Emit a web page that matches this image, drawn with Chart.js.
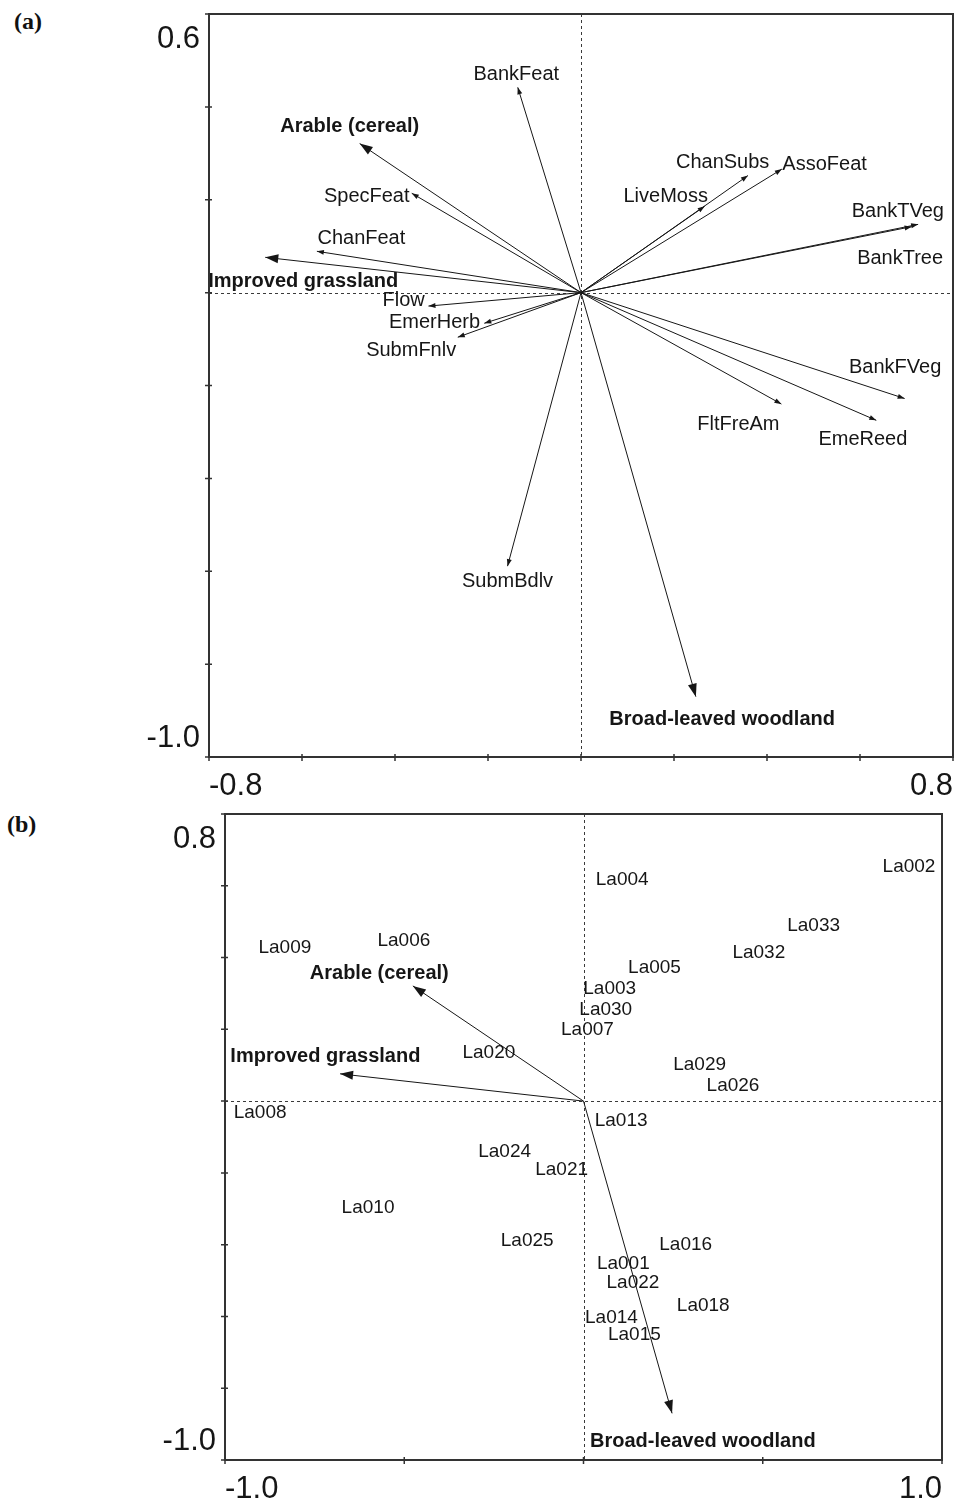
<!DOCTYPE html>
<html>
<head>
<meta charset="utf-8">
<title>Ordination biplots</title>
<script src="https://cdn.jsdelivr.net/npm/chart.js@4/dist/chart.umd.min.js"></script>
<style>
  html, body { margin: 0; padding: 0; background: #fff; }
  body { width: 955px; height: 1504px; position: relative; overflow: hidden; }
  .panel-tag { position: absolute; font: bold 24px "Liberation Serif", "Times New Roman", serif; color: #111; line-height: 1; }
  canvas { position: absolute; left: 0; }
</style>
</head>
<body>
<div class="panel-tag" style="left:14px;top:9px">(a)</div>
<div class="panel-tag" style="left:7px;top:812px">(b)</div>
<canvas id="chartA" width="955" height="805" style="top:0"></canvas>
<canvas id="chartB" width="955" height="699" style="top:805px"></canvas>
<script>
// ---- Habitat variables (biplot scores on ordination axes 1 and 2) ----
const habitatNames = ['BankFeat', 'SpecFeat', 'ChanFeat', 'Flow', 'EmerHerb', 'SubmFnlv', 'SubmBdlv',
  'ChanSubs', 'AssoFeat', 'LiveMoss', 'BankTVeg', 'BankTree', 'BankFVeg', 'EmeReed', 'FltFreAm'];
const habitatAxis1 = [-0.136, -0.364, -0.568, -0.328, -0.208, -0.265, -0.158,
  0.359, 0.432, 0.266, 0.725, 0.711, 0.696, 0.635, 0.431];
const habitatAxis2 = [0.442, 0.214, 0.089, -0.029, -0.066, -0.096, -0.589,
  0.252, 0.266, 0.186, 0.147, 0.142, -0.228, -0.275, -0.240];

// ---- Land-use variables ----
const landUseNames = ['Arable (cereal)', 'Improved grassland', 'Broad-leaved woodland'];
const landUseAxis1 = [-0.476, -0.679, 0.247];
const landUseAxis2 = [0.321, 0.076, -0.870];

// ---- Site scores ----
const siteNames = ['La001', 'La002', 'La003', 'La004', 'La005', 'La006', 'La007', 'La008', 'La009',
  'La010', 'La013', 'La014', 'La015', 'La016', 'La018', 'La020', 'La021', 'La022', 'La024',
  'La025', 'La026', 'La029', 'La030', 'La032', 'La033'];
const siteAxis1 = [0.111, 0.908, 0.073, 0.108, 0.198, -0.501, 0.011, -0.902, -0.833,
  -0.601, 0.105, 0.078, 0.142, 0.285, 0.334, -0.264, -0.061, 0.138, -0.220,
  -0.157, 0.417, 0.324, 0.062, 0.489, 0.642];
const siteAxis2 = [-0.450, 0.656, 0.317, 0.621, 0.375, 0.452, 0.203, -0.028, 0.432,
  -0.294, -0.051, -0.599, -0.648, -0.396, -0.565, 0.140, -0.188, -0.503, -0.138,
  -0.385, 0.047, 0.105, 0.259, 0.419, 0.492];

// ---- Axis limits (the only labelled ticks) ----
const axis1EdgesA = [-0.8, 0.8];
const axis2EdgesA = [-1.0, 0.6];
const axis1EdgesB = [-1.0, 1.0];
const axis2EdgesB = [-1.0, 0.8];

// Label placement relative to arrow tips, in pixels
const labelShiftA = {
  'BankFeat': [-1.5, -14.5], 'SpecFeat': [-45, 1.7], 'ChanFeat': [44.5, -14.7],
  'Flow': [-24.8, -6.8], 'EmerHerb': [-49.8, -2.5], 'SubmFnlv': [-46.6, 11.5],
  'SubmBdlv': [0, 13.2], 'ChanSubs': [-25.3, -14.9], 'AssoFeat': [42.7, -6.5],
  'LiveMoss': [-39, -11.8], 'BankTVeg': [-20.3, -14.3], 'BankTree': [-11.5, 29.8],
  'BankFVeg': [-9.5, -32.8], 'EmeReed': [-13.4, 18], 'FltFreAm': [-43, 18.8],
  'Arable (cereal)': [-10, -18.3], 'Improved grassland': [38, 22.8], 'Broad-leaved woodland': [26.3, 20.8]
};
const labelShiftB = {
  'Arable (cereal)': [-33.6, -14.3], 'Improved grassland': [-14.7, -19], 'Broad-leaved woodland': [30.8, 26.7]
};

const FONT = '"Liberation Sans", Arial, sans-serif';
const INK = '#161616';

function arrowSets(names, ax1, ax2, large) {
  return names.map((name, i) => ({
    label: name,
    showLine: true,
    data: [{ x: 0, y: 0 }, { x: ax1[i], y: ax2[i] }],
    borderColor: INK,
    borderWidth: 1,
    pointRadius: 0,
    pointHoverRadius: 0,
    arrow: large ? 'large' : 'small',
    bold: large
  }));
}

function drawText(ctx, text, cx, cy, bold, size) {
  ctx.save();
  ctx.font = (bold ? 'bold ' : '') + size + 'px ' + FONT;
  ctx.fillStyle = INK;
  ctx.textAlign = 'center';
  ctx.textBaseline = 'alphabetic';
  ctx.fillText(text, cx, cy + 0.358 * size);
  ctx.restore();
}

const biplotDecor = {
  id: 'biplotDecor',
  beforeDatasetsDraw(chart) {
    const { ctx, chartArea: a, scales: { x, y } } = chart;
    const x0 = Math.round(x.getPixelForValue(0)) + 0.5;
    const y0 = Math.round(y.getPixelForValue(0)) + 0.5;
    ctx.save();
    ctx.strokeStyle = '#3a3a3a';
    ctx.lineWidth = 1;
    ctx.setLineDash([3, 3]);
    ctx.beginPath();
    ctx.moveTo(x0, a.top); ctx.lineTo(x0, a.bottom);
    ctx.moveTo(a.left, y0); ctx.lineTo(a.right, y0);
    ctx.stroke();
    ctx.restore();
  },
  afterDatasetsDraw(chart, args, opts) {
    const ctx = chart.ctx;
    chart.data.datasets.forEach((ds, i) => {
      const meta = chart.getDatasetMeta(i);
      if (ds.arrow) {
        const p0 = meta.data[0], p1 = meta.data[1];
        const ang = Math.atan2(p1.y - p0.y, p1.x - p0.x);
        const len = ds.arrow === 'large' ? 13 : 7;
        const half = ds.arrow === 'large' ? 4.5 : 2.5;
        ctx.save();
        ctx.fillStyle = INK;
        ctx.translate(p1.x, p1.y);
        ctx.rotate(ang);
        ctx.beginPath();
        ctx.moveTo(0, 0);
        ctx.lineTo(-len, half);
        ctx.lineTo(-len, -half);
        ctx.closePath();
        ctx.fill();
        ctx.restore();
        const sh = opts.shifts[ds.label] || [0, 0];
        drawText(ctx, ds.label, p1.x + sh[0], p1.y + sh[1], ds.bold, ds.bold ? 20 : opts.textSize);
      } else if (ds.siteLabels) {
        meta.data.forEach((pt, j) => drawText(ctx, ds.siteLabels[j], pt.x, pt.y, false, opts.siteSize));
      }
    });
  },
  afterDraw(chart) {
    const { ctx, chartArea: a, scales: { x, y } } = chart;
    ctx.save();
    ctx.strokeStyle = '#333';
    ctx.lineWidth = 2;
    ctx.strokeRect(a.left, a.top, a.right - a.left, a.bottom - a.top);
    ctx.lineWidth = 1.5;
    ctx.beginPath();
    x.ticks.forEach(t => {
      const px = x.getPixelForValue(t.value);
      ctx.moveTo(px, a.bottom - 3); ctx.lineTo(px, a.bottom + 4);
    });
    y.ticks.forEach(t => {
      const py = y.getPixelForValue(t.value);
      ctx.moveTo(a.left - 4, py); ctx.lineTo(a.left + 3, py);
    });
    ctx.stroke();
    ctx.restore();
  }
};

function isEdge(v, edges) { return edges.some(e => Math.abs(e - v) < 1e-9); }

function makeScales(edges1, edges2, step1, step2, axisWidth, axisHeight) {
  return {
    x: {
      type: 'linear', position: 'bottom', min: edges1[0], max: edges1[1],
      grid: { display: false, drawTicks: false }, border: { display: false },
      ticks: {
        stepSize: step1, autoSkip: false, maxRotation: 0, align: 'inner', padding: 11,
        color: INK, font: { family: FONT, size: 31 },
        callback: v => isEdge(v, edges1) ? v.toFixed(1) : ''
      },
      afterFit(s) { s.height = axisHeight; s.paddingLeft = 0; s.paddingRight = 0; }
    },
    y: {
      type: 'linear', position: 'left', min: edges2[0], max: edges2[1],
      grid: { display: false, drawTicks: false }, border: { display: false },
      ticks: {
        stepSize: step2, autoSkip: false, padding: 9, labelOffset: 3,
        color: INK, font: { family: FONT, size: 31, lineHeight: 1.42 },
        callback: v => {
          if (Math.abs(v - edges2[1]) < 1e-9) return ['', v.toFixed(1)];
          if (Math.abs(v - edges2[0]) < 1e-9) return [v.toFixed(1), ''];
          return '';
        }
      },
      afterFit(s) { s.width = axisWidth; s.paddingTop = 0; s.paddingBottom = 0; }
    }
  };
}

function baseOptions(scales, padding, decor) {
  return {
    responsive: false,
    animation: false,
    events: [],
    layout: { padding },
    scales,
    plugins: { legend: { display: false }, tooltip: { enabled: false }, biplotDecor: decor }
  };
}

// (a) habitat and land-use variables
new Chart(document.getElementById('chartA'), {
  type: 'scatter',
  data: {
    datasets: [
      ...arrowSets(habitatNames, habitatAxis1, habitatAxis2, false),
      ...arrowSets(landUseNames, landUseAxis1, landUseAxis2, true)
    ]
  },
  options: baseOptions(
    makeScales(axis1EdgesA, axis2EdgesA, 0.2, 0.2, 209, 48),
    { left: 0, top: 14, right: 2, bottom: 0 },
    { shifts: labelShiftA, textSize: 20, siteSize: 19 }
  ),
  plugins: [biplotDecor]
});

// (b) sites with land-use variables
new Chart(document.getElementById('chartB'), {
  type: 'scatter',
  data: {
    datasets: [
      ...arrowSets(landUseNames, landUseAxis1, landUseAxis2, true),
      {
        label: 'Sites',
        data: siteNames.map((n, i) => ({ x: siteAxis1[i], y: siteAxis2[i] })),
        siteLabels: siteNames,
        pointRadius: 0,
        pointHoverRadius: 0,
        showLine: false
      }
    ]
  },
  options: baseOptions(
    makeScales(axis1EdgesB, axis2EdgesB, 0.5, 0.2, 225, 44),
    { left: 0, top: 9, right: 13, bottom: 0 },
    { shifts: labelShiftB, textSize: 19, siteSize: 19 }
  ),
  plugins: [biplotDecor]
});
</script>
</body>
</html>
